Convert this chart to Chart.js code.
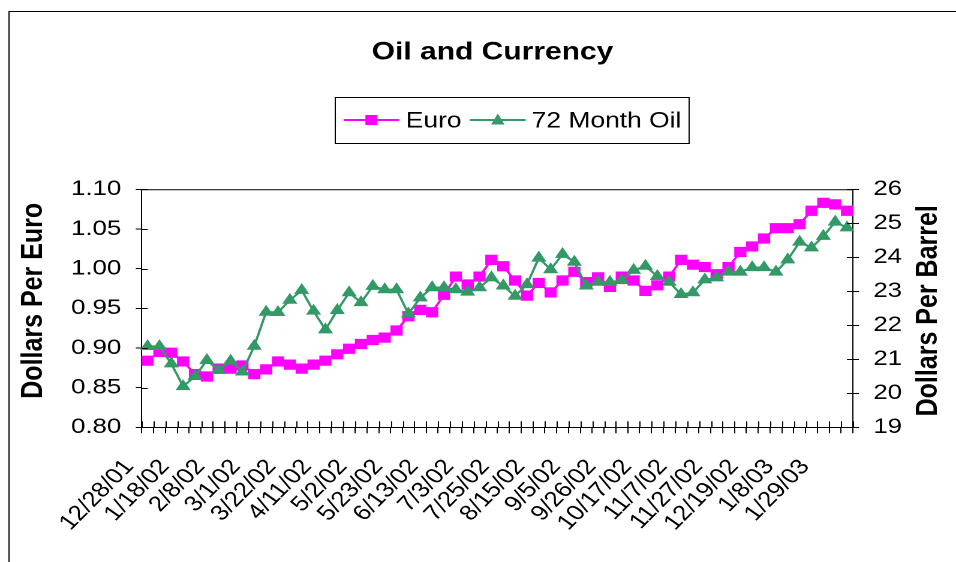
<!DOCTYPE html>
<html>
<head>
<meta charset="utf-8">
<script src="https://cdn.jsdelivr.net/npm/chart.js@4.4.1/dist/chart.umd.min.js"></script>
<style>
  html, body { margin: 0; padding: 0; background: #fff; overflow: hidden; }
  /* the original picture is stretched sideways, so the chart is drawn narrower and widened */
  #wrap { width: 797px; height: 562px; transform: scaleX(1.1995); transform-origin: 0 0; }
</style>
</head>
<body>
<div id="wrap"><canvas id="chart"></canvas></div>
<script>
// weekly dates, every third one is labelled
const dates = [
  "12/28/01", "1/4/02", "1/11/02", "1/18/02", "1/25/02", "2/1/02", "2/8/02", "2/15/02", "2/22/02", "3/1/02",
  "3/8/02", "3/15/02", "3/22/02", "3/28/02", "4/5/02", "4/11/02", "4/19/02", "4/26/02", "5/2/02", "5/10/02",
  "5/17/02", "5/23/02", "5/31/02", "6/7/02", "6/13/02", "6/21/02", "6/28/02", "7/3/02", "7/12/02", "7/19/02",
  "7/25/02", "8/2/02", "8/9/02", "8/15/02", "8/23/02", "8/30/02", "9/5/02", "9/13/02", "9/20/02", "9/26/02",
  "10/4/02", "10/11/02", "10/17/02", "10/25/02", "11/1/02", "11/7/02", "11/15/02", "11/22/02", "11/27/02", "12/6/02",
  "12/13/02", "12/19/02", "12/27/02", "1/3/03", "1/8/03", "1/17/03", "1/24/03", "1/29/03", "2/7/03", "2/14/03"
];

const euro = [
  0.884, 0.895, 0.894, 0.883, 0.867, 0.864, 0.874, 0.874, 0.878, 0.867,
  0.873, 0.883, 0.879, 0.874, 0.879, 0.884, 0.892, 0.899, 0.905, 0.910,
  0.913, 0.922, 0.940, 0.948, 0.945, 0.967, 0.990, 0.980, 0.990, 1.011,
  1.003, 0.985, 0.966, 0.982, 0.970, 0.985, 0.996, 0.983, 0.989, 0.977,
  0.990, 0.985, 0.972, 0.979, 0.990, 1.011, 1.005, 1.002, 0.993, 1.002,
  1.021, 1.028, 1.038, 1.051, 1.051, 1.056, 1.073, 1.083, 1.081, 1.073
];

const oil = [
  21.38, 21.38, 20.87, 20.20, 20.50, 20.97, 20.68, 20.95, 20.63, 21.39,
  22.39, 22.38, 22.74, 23.03, 22.42, 21.87, 22.44, 22.96, 22.67, 23.15,
  23.05, 23.05, 22.34, 22.81, 23.11, 23.11, 23.05, 22.98, 23.11, 23.40,
  23.16, 22.86, 23.20, 23.98, 23.64, 24.09, 23.86, 23.16, 23.27, 23.27,
  23.32, 23.62, 23.74, 23.44, 23.27, 22.91, 22.96, 23.34, 23.40, 23.57,
  23.57, 23.70, 23.70, 23.57, 23.93, 24.45, 24.28, 24.62, 25.04, 24.87
];

const euroAxis = { min: 0.80, max: 1.10, step: 0.05 };
const oilAxis = { min: 19, max: 26, step: 1 };

const FONT = "'Liberation Sans', Arial, sans-serif";
const PINK = "#FF00FF";
const GREEN = "#339966";

// frame, plot box, crossing tick marks, titles and the legend box
const excelDecor = {
  id: "excelDecor",
  afterDraw(chart) {
    const ctx = chart.ctx;
    const a = chart.chartArea;
    ctx.save();
    ctx.strokeStyle = "#000";
    ctx.lineWidth = 1;

    // outer frame (only left and top show)
    ctx.strokeRect(7.5, 11.5, 2000, 2000);

    // top of the plot box
    ctx.beginPath();
    ctx.moveTo(a.left, a.top + 0.5);
    ctx.lineTo(a.right, a.top + 0.5);
    ctx.stroke();

    // inner half of the tick marks
    const xs = chart.scales.x;
    const half = (xs.getPixelForValue(1) - xs.getPixelForValue(0)) / 2;
    ctx.beginPath();
    for (let i = 0; i <= dates.length; i++) {
      const px = Math.round(xs.getPixelForValue(i) - half) + 0.5;
      ctx.moveTo(px, a.bottom);
      ctx.lineTo(px, a.bottom - 6);
    }
    chart.scales.y.ticks.forEach(t => {
      const py = Math.round(chart.scales.y.getPixelForValue(t.value)) + 0.5;
      ctx.moveTo(a.left, py);
      ctx.lineTo(a.left + 5, py);
    });
    chart.scales.y1.ticks.forEach(t => {
      const py = Math.round(chart.scales.y1.getPixelForValue(t.value)) + 0.5;
      ctx.moveTo(a.right, py);
      ctx.lineTo(a.right - 5, py);
    });
    ctx.stroke();

    ctx.fillStyle = "#000";

    // chart title
    ctx.font = "bold 25px " + FONT;
    ctx.textAlign = "center";
    ctx.textBaseline = "alphabetic";
    ctx.fillText("Oil and Currency", 410.6, 59.3);

    // axis titles, both read bottom to top
    ctx.save();
    ctx.translate(35.1, 300.8);
    ctx.rotate(-Math.PI / 2);
    ctx.fillText("Dollars Per Euro", 0, 0);
    ctx.restore();
    ctx.save();
    ctx.translate(780.9, 310.8);
    ctx.rotate(-Math.PI / 2);
    ctx.fillText("Dollars Per Barrel", 0, 0);
    ctx.restore();

    // legend
    ctx.strokeRect(279.5, 97.5, 295, 46);
    const ly = 120;
    const items = [
      { ds: chart.data.datasets[0], x0: 286.7, x1: 332.5, tx: 338.3 },
      { ds: chart.data.datasets[1], x0: 391.7, x1: 438.3, tx: 443.3 }
    ];
    ctx.font = "22px " + FONT;
    ctx.textAlign = "left";
    items.forEach(it => {
      ctx.strokeStyle = it.ds.borderColor;
      ctx.lineWidth = 2;
      ctx.beginPath();
      ctx.moveTo(it.x0, ly);
      ctx.lineTo(it.x1, ly);
      ctx.stroke();
      const mx = (it.x0 + it.x1) / 2;
      ctx.fillStyle = it.ds.backgroundColor;
      ctx.beginPath();
      if (it.ds.pointStyle === "rect") {
        ctx.rect(mx - 5, ly - 5, 10, 10);
      } else {
        ctx.moveTo(mx, ly - 6.5);
        ctx.lineTo(mx + 5.6, ly + 4.5);
        ctx.lineTo(mx - 5.6, ly + 4.5);
        ctx.closePath();
      }
      ctx.fill();
      ctx.fillStyle = "#000";
      ctx.fillText(it.ds.label, it.tx, 127.3);
    });
    ctx.restore();
  }
};

const tickFont = { family: FONT, size: 21.5 };

new Chart(document.getElementById("chart"), {
  type: "line",
  data: {
    labels: dates,
    datasets: [
      {
        label: "Euro",
        data: euro,
        yAxisID: "y",
        order: 1,
        borderColor: PINK,
        backgroundColor: PINK,
        borderWidth: 2,
        pointStyle: "rect",
        pointRadius: 6.5,
        pointBorderWidth: 1,
        tension: 0
      },
      {
        label: "72 Month Oil",
        data: oil,
        yAxisID: "y1",
        order: 0,
        borderColor: GREEN,
        backgroundColor: GREEN,
        borderWidth: 2,
        pointStyle: "triangle",
        pointRadius: 6.3,
        pointBorderWidth: 1,
        tension: 0
      }
    ]
  },
  options: {
    responsive: true,
    maintainAspectRatio: false,
    animation: false,
    devicePixelRatio: 2,
    layout: { padding: { top: 189.3, left: 0, right: 0, bottom: 0 } },
    plugins: {
      legend: { display: false },
      title: { display: false },
      tooltip: { enabled: false }
    },
    scales: {
      x: {
        offset: true,
        grid: { offset: true, drawOnChartArea: false, color: "#000", tickLength: 6 },
        border: { color: "#000", width: 1 },
        ticks: {
          autoSkip: false,
          minRotation: 50.2,
          maxRotation: 50.2,
          padding: 3,
          color: "#000",
          font: tickFont,
          // trailing spaces keep the label ends clear of the axis, as in the original
          callback: (v, i) => (i % 3 === 0 ? dates[i] + "    " : "")
        },
        afterFit: s => { s.height = 134.7; }
      },
      y: {
        position: "left",
        min: euroAxis.min,
        max: euroAxis.max,
        grid: { drawOnChartArea: false, color: "#000", tickLength: 5 },
        border: { color: "#000", width: 1 },
        ticks: {
          stepSize: euroAxis.step,
          padding: 12,
          color: "#000",
          font: tickFont,
          callback: v => v.toFixed(2)
        },
        afterFit: s => { s.width = 118.1; }
      },
      y1: {
        position: "right",
        min: oilAxis.min,
        max: oilAxis.max,
        grid: { drawOnChartArea: false, color: "#000", tickLength: 5 },
        border: { color: "#000", width: 1 },
        ticks: {
          stepSize: oilAxis.step,
          padding: 12,
          color: "#000",
          font: tickFont
        },
        afterFit: s => { s.width = 85.9; }
      }
    }
  },
  plugins: [excelDecor]
});
</script>
</body>
</html>
